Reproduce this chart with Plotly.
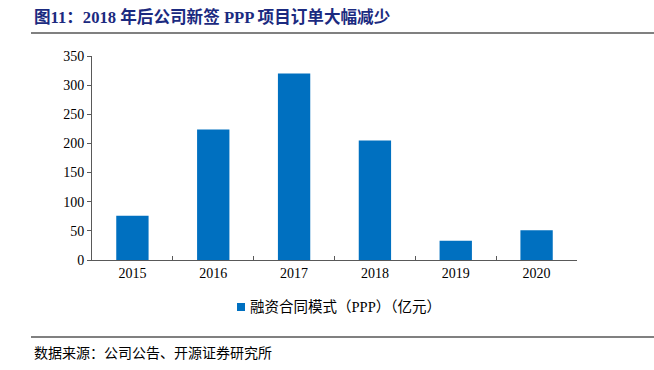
import plotly.graph_objects as go

years = ["2015", "2016", "2017", "2018", "2019", "2020"]
values = [76, 224, 320, 205, 33, 51]
series_name = "融资合同模式（PPP）（亿元）"
title_text = "图11：2018 年后公司新签 PPP 项目订单大幅减少"
source_text = "数据来源：公司公告、开源证券研究所"
bar_color = "#0070C0"

W, H = 654, 370
L, R, T, B = 92, 577, 56, 260
pw, ph = R - L, B - T

def px(x):
    return (x - L) / pw

def py(y):
    return (B - y) / ph

FONT = "Liberation Serif, Times New Roman, Noto Sans CJK SC, serif"

fig = go.Figure()
fig.add_trace(go.Bar(
    x=years, y=values, name=series_name,
    marker=dict(color=bar_color, line=dict(width=0)),
    width=0.4, showlegend=False,
))

fig.update_layout(
    width=W, height=H,
    margin=dict(l=L, r=W - R, t=T, b=H - B, autoexpand=False),
    paper_bgcolor="white", plot_bgcolor="white",
    font=dict(family=FONT, size=14, color="#000000"),
    showlegend=False,
    xaxis=dict(
        showline=True, linecolor="#595959", linewidth=1,
        ticks="inside", tickson="boundaries", ticklen=4, tickcolor="#595959",
        showgrid=False, tickfont=dict(family=FONT, size=14),
    ),
    yaxis=dict(
        range=[0, 350], dtick=50, showline=True, linecolor="#595959", linewidth=1,
        ticks="outside", ticklen=4, tickcolor="#595959", showgrid=False,
        zeroline=False, tickfont=dict(family=FONT, size=14),
    ),
    shapes=[
        dict(type="line", xref="paper", yref="paper", x0=px(31), x1=px(654),
             y0=py(33), y1=py(33), line=dict(color="#808080", width=2)),
        dict(type="line", xref="paper", yref="paper", x0=px(31), x1=px(654),
             y0=py(337), y1=py(337), line=dict(color="#808080", width=2)),
        dict(type="rect", xref="paper", yref="paper", x0=px(237), x1=px(245),
             y0=py(311), y1=py(303), fillcolor=bar_color, line=dict(width=0)),
    ],
    annotations=[
        dict(text=f"<b>{title_text}</b>", xref="paper", yref="paper", x=px(32), y=py(17),
             xanchor="left", yanchor="middle", showarrow=False,
             font=dict(family="Liberation Serif, Noto Sans CJK SC", size=16.6, color="#1B2A80")),
        dict(text=series_name, xref="paper", yref="paper", x=px(248), y=py(307),
             xanchor="left", yanchor="middle", showarrow=False,
             font=dict(family="Liberation Serif, Noto Sans CJK SC", size=14.5, color="#000000")),
        dict(text=source_text, xref="paper", yref="paper", x=px(32), y=py(352),
             xanchor="left", yanchor="middle", showarrow=False,
             font=dict(family="Noto Sans CJK SC", size=14, color="#000000")),
    ],
)

fig.write_html("out.html", config={"displayModeBar": False},
               post_script="document.body.style.margin='0';")
